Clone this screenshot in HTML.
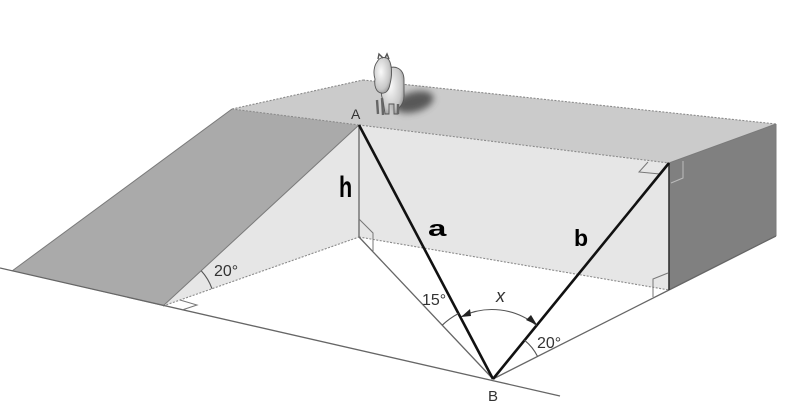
<!DOCTYPE html>
<html><head><meta charset="utf-8"><style>
html,body{margin:0;padding:0;background:#fff;}
svg{display:block;}
text{font-family:"Liberation Sans",sans-serif;}
</style></head><body>
<svg width="800" height="407" viewBox="0 0 800 407" xmlns="http://www.w3.org/2000/svg">
<defs>
<filter id="bl" x="-50%" y="-50%" width="200%" height="200%"><feGaussianBlur stdDeviation="3.5"/></filter>
<radialGradient id="hg" cx="0.4" cy="0.4" r="0.7"><stop offset="0" stop-color="#fafafa"/><stop offset="0.7" stop-color="#c8c8c8"/><stop offset="1" stop-color="#8a8a8a"/></radialGradient>
</defs>
<rect width="800" height="407" fill="#fff"/>
<polygon points="232,109 363,80 776,124 669,163 359,125" fill="#cbcbcb"/>
<polygon points="12,271 163,306 359,125 232,109" fill="#aaaaaa"/>
<polygon points="163,306 359,125 359,237" fill="#e6e6e6"/>
<polygon points="359,125 669,163 669,290 359,237" fill="#e6e6e6"/>
<polygon points="669,163 776,124 776,236 669,290" fill="#808080"/>

<g stroke="#8a8a8a" stroke-width="1.1" stroke-dasharray="2,1.5" fill="none">
<line x1="232" y1="109" x2="363" y2="80"/>
<line x1="363" y1="80" x2="776" y2="124"/>
<line x1="232" y1="109" x2="359" y2="125"/>
<line x1="359" y1="125" x2="669" y2="163"/>
<line x1="163" y1="306" x2="359" y2="237"/>
<line x1="359" y1="237" x2="669" y2="290"/>
</g>
<g stroke="#7a7a7a" stroke-width="1" fill="none">
<line x1="12" y1="271" x2="232" y2="109"/>
<line x1="163" y1="306" x2="359" y2="125"/>
<line x1="776" y1="124" x2="776" y2="236"/>
<line x1="669" y1="163" x2="776" y2="124"/>
</g>
<g stroke="#666" stroke-width="1.3" fill="none">
<line x1="0" y1="268" x2="560" y2="396"/>
<line x1="359" y1="237" x2="493" y2="379"/>
<line x1="493" y1="379" x2="669" y2="290"/>
<line x1="669" y1="290" x2="776" y2="236"/>
<line x1="359" y1="125" x2="359" y2="237"/>
</g>
<line x1="669" y1="163" x2="669" y2="290" stroke="#333" stroke-width="1.6"/>

<g stroke="#777" stroke-width="1" fill="none">
<polyline points="359,219 373,233 373,251"/>
<polyline points="180,300 197,305 182,310"/>
<polyline points="648,162 639,172 660,174"/>
<polyline points="668,273 653,279 653,297"/>
</g>
<polyline points="683,161 683,178 671,183" stroke="#bbb" stroke-width="1" fill="none"/>

<line x1="359" y1="125" x2="493" y2="379" stroke="#111" stroke-width="2.6"/>
<line x1="669" y1="163" x2="493" y2="379" stroke="#111" stroke-width="2.6"/>

<g stroke="#555" stroke-width="1.1" fill="none">
<path d="M201.2,270.7 A52,52 0 0 1 212,288.7"/>
<path d="M442.2,325.2 A74,74 0 0 1 458.5,313.5"/>
<path d="M524.5,340.2 A50,50 0 0 1 537.6,356.5"/>
<path d="M461.5,316.5 A70,70 0 0 1 536.5,325.5"/>
</g>
<polygon points="461,317 470,309 471,316" fill="#222"/>
<polygon points="537,325 526,320 531,315" fill="#222"/>

<g fill="#333" font-size="16">
<text x="351" y="119" font-size="14">A</text>
<text x="488" y="401" font-size="15">B</text>
<text x="214" y="276">20°</text>
<text x="422" y="305">15°</text>
<text x="537" y="348">20°</text>
</g>
<text x="496" y="302" font-family="'Liberation Serif',serif" font-style="italic" font-size="18" fill="#333">x</text>

<text transform="translate(339,197) scale(0.9,1.25)" font-size="24" font-weight="bold" fill="#000">h</text>
<text transform="translate(428,236) scale(1.5,1)" font-size="22" font-weight="bold" fill="#000">a</text>
<text x="574" y="246" font-size="23" font-weight="bold" fill="#000">b</text>

<g>
<ellipse cx="414" cy="102" rx="20" ry="10" fill="#444" opacity="0.85" filter="url(#bl)" transform="rotate(-15 414 102)"/>
<path d="M386,70 C394,64 404,68 404,80 L404,96 C404,102 401,106 399,108 L398,114 L394,114 L394,104 L389,104 L389,114 L385,114 L383,100 C380,94 381,82 386,70 Z" fill="url(#hg)" stroke="#555" stroke-width="0.9"/>
<path d="M377,62 C380,56 388,56 390,62 C392,68 392,76 390,84 C389,90 386,94 381,93 C376,92 374,86 375,79 C373,73 374,66 377,62 Z" fill="url(#hg)" stroke="#555" stroke-width="0.9"/>
<path d="M378,59 L379,54 L383,58 M385,58 L387,54 L389,59" stroke="#555" stroke-width="1.4" fill="none"/>
<path d="M377,100 L378,114 M382,98 L383,115 M398,104 L398,114" stroke="#666" stroke-width="2.4"/>
</g>
</svg>
</body></html>
